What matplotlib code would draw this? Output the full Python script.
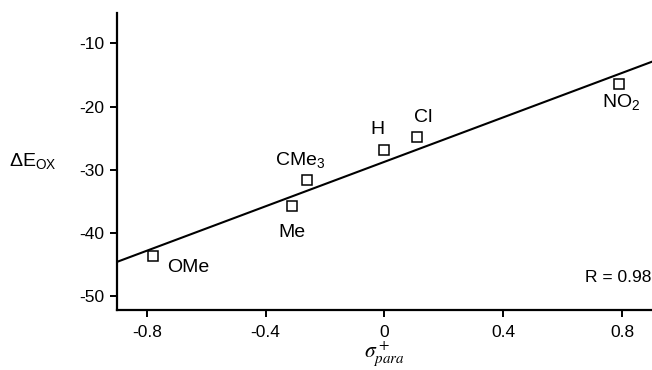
import matplotlib
matplotlib.use("Agg")
import numpy as np
import matplotlib.pyplot as plt

plt.rcParams['font.family'] = ['Liberation Sans', 'DejaVu Sans']
plt.rcParams['axes.unicode_minus'] = False
plt.rcParams['mathtext.fontset'] = 'custom'
plt.rcParams['mathtext.rm'] = 'Liberation Sans'
plt.rcParams['mathtext.it'] = 'Liberation Sans:italic'

# substituent, sigma+ para, delta E_ox
labels = ["OMe", "Me", "CMe$_3$", "H", "Cl", "NO$_2$"]
sigma = [-0.78, -0.31, -0.26, 0.00, 0.11, 0.79]
dEox = [-43.7, -35.8, -31.6, -26.9, -24.9, -16.5]

# fitted line
fit_slope = 17.6
fit_intercept = -28.75
r_value = 0.98

xticks = [-0.8, -0.4, 0, 0.4, 0.8]
xticklabels = ["-0.8", "-0.4", "0", "0.4", "0.8"]
yticks = [-50, -40, -30, -20, -10]

fig = plt.figure(figsize=(6.52, 3.70), dpi=100)
ax = fig.add_axes([0.1794, 0.1622, 0.8206, 0.8027])

xl = np.array([-0.9, 0.9])
ax.plot(xl, fit_intercept + fit_slope * xl, color="black", lw=1.5, zorder=2)
ax.plot(sigma, dEox, ls="none", marker="s", ms=6.5, mfc="white",
        mec="black", mew=1.1, zorder=3)

# label offsets in points
offsets = [(26, -8), (0, -19), (-5, 14.5), (-5, 15), (4.5, 14.5), (1.5, -12.5)]
for lab, x, y, off in zip(labels, sigma, dEox, offsets):
    ax.annotate(lab, (x, y), xytext=off, textcoords="offset points",
                ha="center", va="center", fontsize=14)

ax.text(0.897, -47.0, "R = %.2f" % r_value, ha="right", va="center", fontsize=12.5)

ax.set_xlim(-0.9, 0.9)
ax.set_ylim(-52.2, -5.2)
ax.set_xticks(xticks)
ax.set_xticklabels(xticklabels)
ax.set_yticks(yticks)
for s in ["top", "right"]:
    ax.spines[s].set_visible(False)
for s in ["left", "bottom"]:
    ax.spines[s].set_linewidth(1.6)
ax.tick_params(direction="out", length=5, width=1.4, labelsize=12.5, pad=4)
ax.tick_params(axis="x", pad=6)

ax.set_xlabel(r"$\sigma^+_{para}$", fontsize=15.5, math_fontfamily="stix", labelpad=-1)
ax.set_ylabel(r"$\Delta\mathrm{E}_{\mathrm{OX}}$", fontsize=14, rotation=0,
              va="center", ha="center")
ax.yaxis.set_label_coords(-0.157, 0.50)

fig.savefig("out.png", dpi=100)
